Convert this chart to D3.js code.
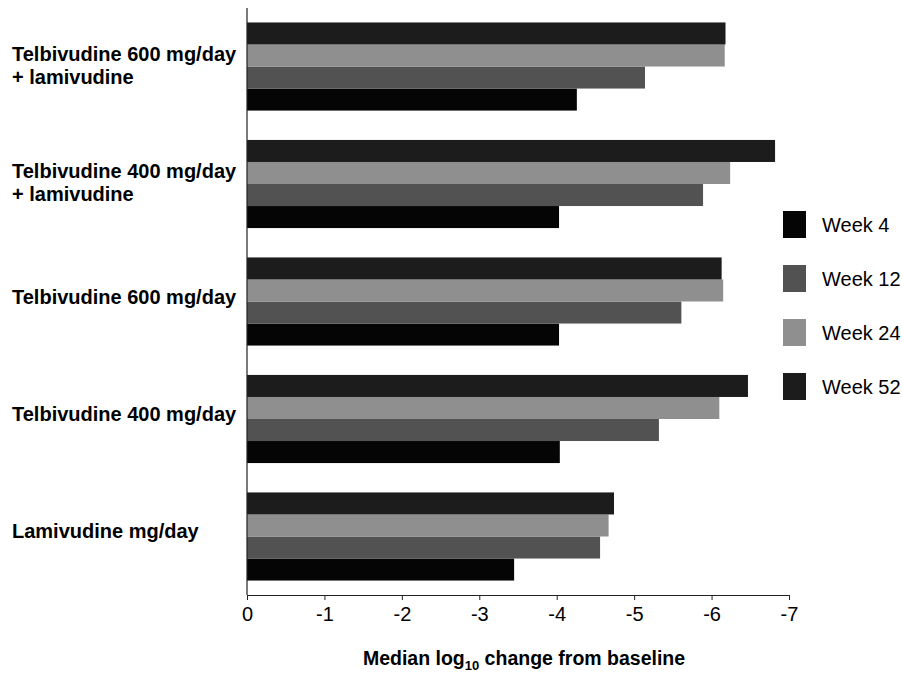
<!DOCTYPE html>
<html>
<head>
<meta charset="utf-8">
<script src="https://cdn.jsdelivr.net/npm/d3@7"></script>
<style>
  body { margin: 0; background: #fff; }
  svg { font-family: "Liberation Sans", Arial, Helvetica, sans-serif; }
</style>
</head>
<body>
<div class="chart"></div>
<script>
var svgWidth = 902;
var svgHeight = 677;

// data
var groups = [
  ["Telbivudine 600 mg/day", "+ lamivudine"],
  ["Telbivudine 400 mg/day", "+ lamivudine"],
  ["Telbivudine 600 mg/day"],
  ["Telbivudine 400 mg/day"],
  ["Lamivudine mg/day"]
];
var weeks = ["Week 4", "Week 12", "Week 24", "Week 52"];
var week4 = [-4.26, -4.03, -4.03, -4.04, -3.45];
var week12 = [-5.14, -5.89, -5.61, -5.32, -4.56];
var week24 = [-6.17, -6.24, -6.15, -6.10, -4.67];
var week52 = [-6.18, -6.82, -6.13, -6.47, -4.74];
var xTicks = [0, -1, -2, -3, -4, -5, -6, -7];

var series = [week4, week12, week24, week52];
var colors = ["#050505", "#525252", "#8f8f8f", "#1c1c1c"];

var svg = d3.select(".chart")
  .append("svg")
  .attr("width", svgWidth)
  .attr("height", svgHeight);

var plotTop = 8, plotBottom = 595, plotLeft = 247, plotRight = 789;

var xScale = d3.scaleLinear()
  .domain([0, -7])
  .range([plotLeft, plotRight]);

var yGroup = d3.scaleBand()
  .domain(d3.range(groups.length))
  .range([plotTop, plotBottom])
  .paddingInner(0.25)
  .paddingOuter(0.123);

// bars inside a group: Week 52 at top, Week 4 at bottom
var yInner = d3.scaleBand()
  .domain(weeks.slice().reverse())
  .range([0, yGroup.bandwidth()]);

var rows = [];
groups.forEach(function(g, i) {
  weeks.forEach(function(w, j) {
    rows.push({ group: i, week: w, idx: j, value: series[j][i] });
  });
});

svg.append("g")
  .selectAll("rect")
  .data(rows)
  .enter()
  .append("rect")
  .attr("x", xScale(0))
  .attr("y", d => yGroup(d.group) + yInner(d.week))
  .attr("width", d => xScale(d.value) - xScale(0))
  .attr("height", yInner.bandwidth())
  .attr("fill", d => colors[d.idx]);

// x axis
var bottomAxis = d3.axisBottom(xScale)
  .tickValues(xTicks)
  .tickFormat(d => String(d))
  .tickSize(5)
  .tickSizeOuter(0);

var xAxis = svg.append("g")
  .attr("transform", `translate(0, ${plotBottom})`)
  .call(bottomAxis)
  .attr("font-size", null)
  .attr("font-family", null);
xAxis.select(".domain").attr("stroke", "#222");
xAxis.selectAll(".tick line").attr("stroke", "#222");
xAxis.selectAll(".tick text")
  .attr("y", 12)
  .style("font-size", "20px")
  .attr("fill", "#000");

// vertical axis line
svg.append("line")
  .attr("x1", plotLeft).attr("x2", plotLeft)
  .attr("y1", plotTop).attr("y2", plotBottom)
  .attr("stroke", "#222")
  .attr("stroke-width", 1.2);

// category labels
var catLabels = svg.append("g");
groups.forEach(function(g, i) {
  var cy = yGroup(i) + yGroup.bandwidth() / 2;
  var t = catLabels.append("text")
    .attr("x", 12)
    .attr("font-size", "20px")
    .attr("font-weight", "bold");
  if (g.length == 1) {
    t.append("tspan").attr("x", 12).attr("y", cy + 2).text(g[0]);
  } else {
    t.append("tspan").attr("x", 12).attr("y", cy - 6).text(g[0]);
    t.append("tspan").attr("x", 12).attr("y", cy + 17).text(g[1]);
  }
});

// axis title
var title = svg.append("text")
  .attr("x", 524)
  .attr("y", 665)
  .attr("text-anchor", "middle")
  .attr("font-size", "19.5px")
  .attr("font-weight", "bold");
title.append("tspan").text("Median log");
title.append("tspan").attr("font-size", "13px").attr("dy", 5).text("10");
title.append("tspan").attr("dy", -5).text(" change from baseline");

// legend
var legend = svg.append("g")
  .attr("transform", "translate(783, 211)");
var legendItems = legend.selectAll("g")
  .data(weeks)
  .enter()
  .append("g")
  .attr("transform", (d, i) => `translate(0, ${i * 54})`);
legendItems.append("rect")
  .attr("width", 23)
  .attr("height", 27)
  .attr("fill", (d, i) => colors[i]);
legendItems.append("text")
  .attr("x", 39)
  .attr("y", 21)
  .attr("font-size", "20px")
  .text(d => d);
</script>
</body>
</html>
